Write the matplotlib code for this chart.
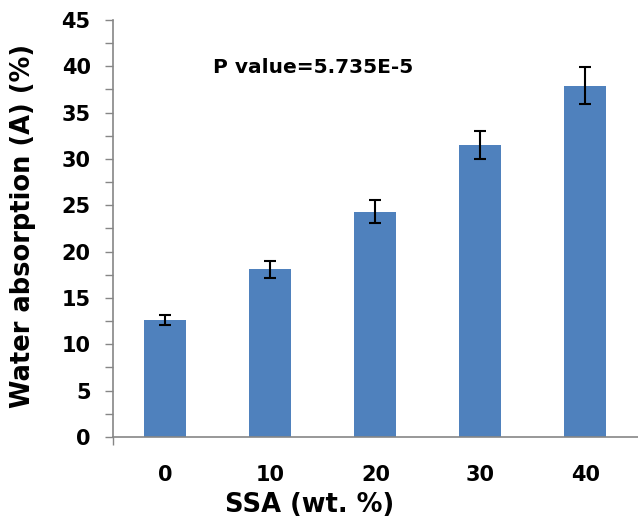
import numpy as np
import matplotlib
matplotlib.use("Agg")
import matplotlib.pyplot as plt
from matplotlib.ticker import MultipleLocator, FixedLocator

# data
ssa = ["0", "10", "20", "30", "40"]
absorption = [12.6, 18.1, 24.3, 31.5, 37.9]
err = [0.55, 0.9, 1.25, 1.55, 2.0]
p_text = "P value=5.735E-5"

axis_col = "#868686"
bar_col = "#4F81BD"

fig = plt.figure(figsize=(6.38, 5.19), dpi=100)
ax = fig.add_axes([0.177, 0.158, 0.823, 0.8035])

x = np.arange(len(ssa))
ax.bar(x, absorption, width=0.4, color=bar_col, zorder=2)
ax.errorbar(x, absorption, yerr=err, fmt="none", ecolor="black",
            elinewidth=1.5, capsize=4.5, capthick=1.5, zorder=3)

ax.set_xlim(-0.5, 4.5)
ax.set_ylim(0, 45)

ax.set_xticks(x)
ax.set_xticklabels(ssa)
ax.xaxis.set_minor_locator(FixedLocator([-0.5, 2]))
ax.tick_params(axis="x", which="major", length=0, pad=20)
ax.tick_params(axis="x", which="minor", length=6, color=axis_col, width=1)

ax.yaxis.set_major_locator(MultipleLocator(5))
ax.yaxis.set_minor_locator(MultipleLocator(2.5))
ax.tick_params(axis="y", which="both", length=6, color=axis_col, width=1, pad=10)

for lab in ax.get_xticklabels() + ax.get_yticklabels():
    lab.set_fontsize(15)
    lab.set_fontweight("bold")

for s in ["top", "right"]:
    ax.spines[s].set_visible(False)
for s in ["left", "bottom"]:
    ax.spines[s].set_color(axis_col)
    ax.spines[s].set_linewidth(1.2)

ax.set_xlabel("SSA (wt. %)", fontsize=18.5, fontweight="bold", va="center")
ax.xaxis.set_label_coords(0.375, -0.163)
ax.set_ylabel("Water absorption (A) (%)", fontsize=18.5, fontweight="bold", va="center")
ax.yaxis.set_label_coords(-0.172, 0.505)

ax.text(0.19, 0.885, p_text, transform=ax.transAxes, fontsize=14.5,
        fontweight="bold", va="center", ha="left")

fig.savefig("out.png", dpi=100)
